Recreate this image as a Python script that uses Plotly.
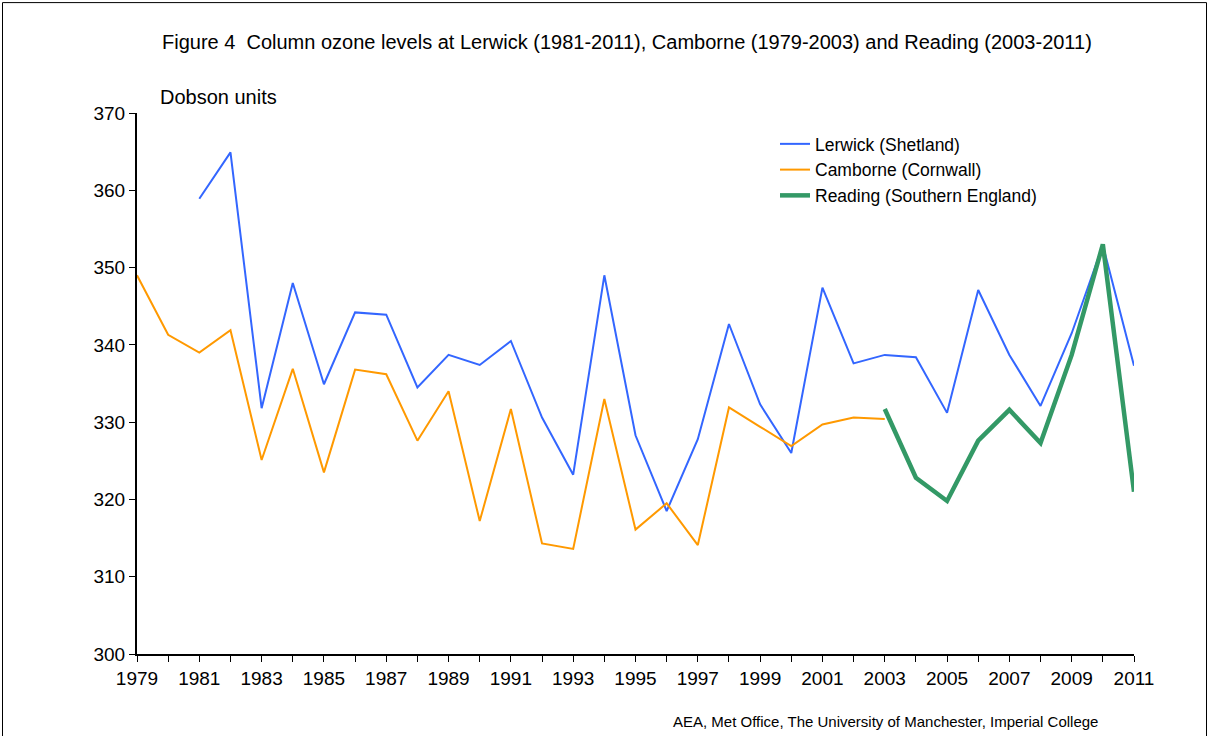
import plotly.graph_objects as go

lerwick_years = list(range(1981, 2012))
lerwick = [358.9, 364.9, 331.8, 348.0, 334.9, 344.2, 343.9, 334.5, 338.7, 337.4,
           340.5, 330.6, 323.2, 349.0, 328.3, 318.5, 327.8, 342.7, 332.3, 326.0,
           347.4, 337.6, 338.7, 338.4, 331.2, 347.1, 338.7, 332.1, 341.5, 352.9,
           337.3]

camborne_years = list(range(1979, 2004))
camborne = [349.0, 341.3, 339.0, 341.9, 325.1, 336.9, 323.5, 336.8, 336.2, 327.6,
            334.0, 317.2, 331.7, 314.3, 313.6, 333.0, 316.1, 319.5, 314.1, 331.9,
            329.4, 326.9, 329.7, 330.6, 330.4]

reading_years = list(range(2003, 2012))
reading = [331.7, 322.8, 319.8, 327.6, 331.6, 327.3, 338.7, 353.0, 321.0]

tick_years = list(range(1979, 2012))
tick_labels = [str(y) if (y - 1979) % 2 == 0 else "" for y in tick_years]

FONT = "Liberation Sans, Arial, sans-serif"
W, H = 1211, 736
L, R, T, B = 137, 77, 113, 81.5
pw, ph = W - L - R, H - T - B

def px(x):
    return (x - L) / pw

def py(y):
    return (H - B - y) / ph

fig = go.Figure()
fig.add_trace(go.Scatter(x=lerwick_years, y=lerwick, mode="lines",
                         name="Lerwick (Shetland)",
                         line=dict(color="#3366FF", width=2)))
fig.add_trace(go.Scatter(x=camborne_years, y=camborne, mode="lines",
                         name="Camborne (Cornwall)",
                         line=dict(color="#FF9900", width=2)))
fig.add_trace(go.Scatter(x=reading_years, y=reading, mode="lines",
                         name="Reading (Southern England)",
                         line=dict(color="#339966", width=4.5)))

fig.update_layout(
    width=W, height=H,
    margin=dict(l=L, r=R, t=T, b=B, autoexpand=False),
    paper_bgcolor="white", plot_bgcolor="white",
    font=dict(family=FONT, size=19, color="black"),
    showlegend=True,
    legend=dict(x=px(775), y=py(126), xanchor="left", yanchor="top",
                bgcolor="rgba(0,0,0,0)", font=dict(size=17.5),
                tracegroupgap=0, itemwidth=30),
    xaxis=dict(range=[1979, 2011], tickmode="array", tickvals=tick_years,
               ticktext=tick_labels, ticks="outside", ticklen=6, tickwidth=1,
               tickcolor="black", showline=True, linecolor="black", linewidth=2,
               showgrid=False, zeroline=False, tickfont=dict(size=19)),
    yaxis=dict(range=[300, 370], dtick=10, ticks="outside", ticklen=6,
               tickwidth=1, tickcolor="black", showline=True, linecolor="black",
               linewidth=2, showgrid=False, zeroline=False,
               tickfont=dict(size=19)),
    annotations=[
        dict(text="Figure 4  Column ozone levels at Lerwick (1981-2011), Camborne (1979-2003) and Reading (2003-2011)",
             xref="paper", yref="paper", x=px(627), y=py(42), xanchor="center",
             yanchor="middle", showarrow=False, font=dict(size=20)),
        dict(text="Dobson units", xref="paper", yref="paper", x=px(158), y=py(97),
             xanchor="left", yanchor="middle", showarrow=False, font=dict(size=20)),
        dict(text="AEA, Met Office, The University of Manchester, Imperial College",
             xref="paper", yref="paper", x=px(1100), y=py(722), xanchor="right",
             yanchor="middle", showarrow=False, font=dict(size=15)),
    ],
    shapes=[
        dict(type="rect", xref="paper", yref="paper",
             x0=px(2.5), x1=px(1206.5), y0=py(745), y1=py(2.5),
             line=dict(color="black", width=1), fillcolor="rgba(0,0,0,0)"),
    ],
)

fig.write_html("out.html", config={"displayModeBar": False},
               post_script="document.body.style.margin='0px';")
